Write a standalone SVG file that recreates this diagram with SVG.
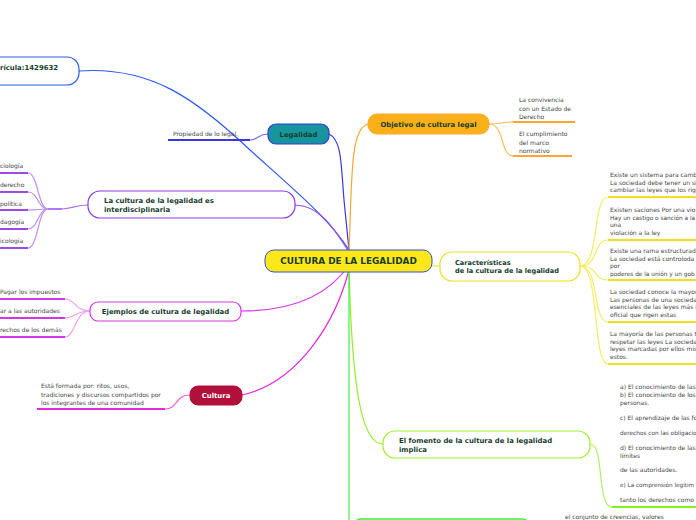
<svg xmlns="http://www.w3.org/2000/svg" width="696" height="520" viewBox="0 0 696 520">
<style>
.nt{font-family:"DejaVu Sans",Verdana,sans-serif;font-weight:bold;font-size:6.9px;fill:#173d2e}
.it{font-family:"DejaVu Sans",Verdana,sans-serif;font-size:6px;fill:#444}
.c{fill:none;stroke-width:1.2}
.u{fill:none;stroke-width:2}
</style>
<rect width="696" height="520" fill="#fff"/>
<g id="connectors">
<path class="c" stroke="#2d5cf0" d="M79,71 C150,66 195,98 250,150 C300,195 330,220 349,250"/>
<path class="c" stroke="#3a36e0" d="M329,134 C342,140 341,165 344,200 L349,250"/>
<path class="c" stroke="#9a4ae8" d="M295,205 C320,205 335,230 349,252"/>
<path class="c" stroke="#d535e8" d="M241,311 C300,311 332,290 349,265"/>
<path class="c" stroke="#e22ad8" d="M242,395 C300,382 336,320 349,270"/>
<path class="c" stroke="#f8a830" d="M349,250 C352,180 350,128 368,124"/>
<path class="c" stroke="#f0e020" d="M349,255 C380,262 410,266 440,266"/>
<path class="c" stroke="#90f020" d="M349,270 C352,380 360,444 383,444"/>
<path class="c" stroke="#40f040" d="M349,272 L349,520"/>
<path class="c" stroke="#7a6af0" d="M268,134 C258,134 258,140 250,140"/>
<path class="u" stroke="#3a36e0" d="M168,140 H250"/>
<path class="c" stroke="#b070f0" d="M88,205 C75,205 72,209 62,209"/>
<path d="M48,209 H62" stroke="#9a4ae8" stroke-width="1.5"/>
<g class="c" stroke="#c090f0">
<path d="M48,209 C38,209 38,173 28,173"/>
<path d="M48,209 C38,209 38,192 28,192"/>
<path d="M48,209 C38,209 38,210 28,210"/>
<path d="M48,209 C38,209 38,229 28,229"/>
<path d="M48,209 C38,209 38,248 28,248"/>
</g>
<g class="u" stroke="#9a4ae8">
<path d="M0,173 H28"/><path d="M0,192 H28"/><path d="M0,210 H28"/><path d="M0,229 H28"/><path d="M0,248 H28"/>
</g>
<g class="c" stroke="#f0a0f0">
<path d="M90,311 C75,311 75,299 65,299"/>
<path d="M90,311 C75,311 75,318 65,318"/>
<path d="M90,311 C75,311 75,337 65,337"/>
</g>
<g class="u" stroke="#d535e8">
<path d="M0,299 H65"/><path d="M0,318 H65"/><path d="M0,337 H65"/>
</g>
<path class="c" stroke="#f060e0" d="M190,395 C175,395 178,409 165,409"/>
<path class="u" stroke="#e22ad8" d="M37,409 H165"/>
<g class="c" stroke="#fbc060">
<path d="M489,124 C500,124 502,122 513,122"/>
<path d="M489,124 C505,124 500,156 513,156"/>
</g>
<g class="u" stroke="#f8a830">
<path d="M513,122 H575"/><path d="M513,156 H572"/>
</g>
<g class="c" stroke="#f5ec60">
<path d="M580,266 C600,266 592,197 608,197"/>
<path d="M580,266 C600,266 592,240 608,240"/>
<path d="M580,266 C600,266 592,280 608,280"/>
<path d="M580,266 C600,266 592,322 608,322"/>
<path d="M580,266 C600,266 592,364 608,364"/>
</g>
<g class="u" stroke="#f0e020">
<path d="M608,197 H696"/><path d="M608,240 H696"/><path d="M608,280 H696"/><path d="M608,322 H696"/><path d="M608,364 H696"/>
</g>
<path class="c" stroke="#b0f060" d="M590,444 C605,444 596,507 612,507"/>
<path class="u" stroke="#80f020" d="M612,507 H696"/>
</g>
<g id="center">
<rect x="265" y="250" width="167" height="22" rx="9" fill="#ffe81a" stroke="#3050d0" stroke-width="1"/>
<text x="348.5" y="264.2" text-anchor="middle" font-family="DejaVu Sans,Verdana,sans-serif" font-weight="bold" font-size="8.9" fill="#173d2e">CULTURA DE LA LEGALIDAD</text>
</g>
<g id="matricula">
<rect x="-20" y="57" width="99" height="28" rx="12" fill="#fff" stroke="#2d5cf0" stroke-width="1.2"/>
<text class="nt" x="0" y="70">rícula:1429632</text>
</g>
<g id="legalidad">
<rect x="268" y="124" width="61" height="20" rx="8" fill="#16959c" stroke="#3a36e0" stroke-width="1.2"/>
<text class="nt" x="298.5" y="136.5" text-anchor="middle">Legalidad</text>
<text class="it" x="173" y="136">Propiedad de lo legal.</text>
</g>
<g id="interdisciplinaria">
<rect x="88" y="191" width="207" height="27" rx="12" fill="#fff" stroke="#8a3ae8" stroke-width="1.2"/>
<text class="nt" x="104" y="203">La cultura de la legalidad es</text>
<text class="nt" x="104" y="211.5">interdisciplinaria</text>
<text class="it" x="0" y="168">ciología</text>
<text class="it" x="0" y="187">derecho</text>
<text class="it" x="0" y="206"> política</text>
<text class="it" x="0" y="224">dagogía</text>
<text class="it" x="0" y="243">icología</text>
</g>
<g id="ejemplos">
<rect x="90" y="302" width="151" height="19" rx="8" fill="#fff" stroke="#d535e8" stroke-width="1.2"/>
<text class="nt" x="165.5" y="314" text-anchor="middle">Ejemplos de cultura de legalidad</text>
<text class="it" x="0" y="294">Pagar los impuestos</text>
<text class="it" x="0" y="313">ar a las autoridades</text>
<text class="it" x="0" y="332">rechos de los demás</text>
</g>
<g id="cultura">
<rect x="190" y="386" width="52" height="19" rx="8" fill="#b0103a" stroke="#b0103a"/>
<text class="nt" x="216" y="398" text-anchor="middle" style="fill:#fff">Cultura</text>
<text class="it" x="41" y="388">Está formada por: ritos, usos,</text>
<text class="it" x="41" y="396.5">tradiciones y discursos compartidos por</text>
<text class="it" x="41" y="405">los integrantes de una comunidad</text>
</g>
<g id="objetivo">
<rect x="368" y="114" width="121" height="20" rx="9" fill="#fbb018" stroke="#f8a830"/>
<text class="nt" x="428.5" y="126.5" text-anchor="middle">Objetivo de cultura legal</text>
<text class="it" x="519" y="102">La convivencia</text>
<text class="it" x="519" y="110.5">con un Estado de</text>
<text class="it" x="519" y="119">Derecho</text>
<text class="it" x="519" y="136">El cumplimiento</text>
<text class="it" x="519" y="144.5">del marco</text>
<text class="it" x="519" y="153">normativo</text>
</g>
<g id="caracteristicas">
<rect x="440" y="252" width="140" height="29" rx="12" fill="#fff" stroke="#f0e020" stroke-width="1.2"/>
<text class="nt" x="455" y="264.5" style="font-size:6.6px">Características</text>
<text class="nt" x="455" y="273" style="font-size:6.6px">de la cultura de la legalidad</text>
<text class="it" x="610" y="177">Existe un sistema para camb</text>
<text class="it" x="610" y="184.5">La sociedad debe tener un si</text>
<text class="it" x="610" y="192">cambiar las leyes que los rig</text>
<text class="it" x="610" y="212">Existen saciones Por una vio</text>
<text class="it" x="610" y="219.5" style="font-size:5.8px">Hay un castigo o sanción a la</text>
<text class="it" x="610" y="227">una</text>
<text class="it" x="610" y="234.5">violación a la ley</text>
<text class="it" x="610" y="253">Existe una rama estructurad</text>
<text class="it" x="610" y="260.5">La sociedad está controloda</text>
<text class="it" x="610" y="268">por</text>
<text class="it" x="610" y="275.5" style="font-size:5.8px">poderes de la unión y un gob</text>
<text class="it" x="610" y="294">La sociedad conoce la mayor</text>
<text class="it" x="610" y="301.5">Las personas de una socieda</text>
<text class="it" x="610" y="309">esenciales de las leyes más i</text>
<text class="it" x="610" y="316.5">oficial que rigen estas</text>
<text class="it" x="610" y="336">La mayoría de las personas t</text>
<text class="it" x="610" y="343.5">respetar las leyes La socieda</text>
<text class="it" x="610" y="351">leyes marcadas por ellos mis</text>
<text class="it" x="610" y="358.5">estos.</text>
</g>
<g id="fomento">
<rect x="383" y="431" width="207" height="27" rx="12" fill="#fff" stroke="#a0f030" stroke-width="1.2"/>
<text class="nt" x="399" y="443">El fomento de la cultura de la legalidad</text>
<text class="nt" x="399" y="451.5">implica</text>
<text class="it" x="620" y="389">a) El conocimiento de las</text>
<text class="it" x="620" y="397">b) El conocimiento de los</text>
<text class="it" x="620" y="405">personas.</text>
<text class="it" x="620" y="420">c) El aprendizaje de las fo</text>
<text class="it" x="620" y="435" style="font-size:5.8px">derechos con las obligacio</text>
<text class="it" x="620" y="450">d) El conocimiento de las</text>
<text class="it" x="620" y="458">límites</text>
<text class="it" x="620" y="472">de las autoridades.</text>
<text class="it" x="620" y="487" style="font-size:5.7px">e) La comprensión legítim</text>
<text class="it" x="620" y="502">tanto los derechos como</text>
</g>
<g id="creencias">
<rect x="353" y="519" width="177" height="20" rx="8" fill="#fff" stroke="#40f040" stroke-width="1.5"/>
<text class="it" x="565" y="519">el conjunto de creencias, valores</text>
</g>
</svg>
